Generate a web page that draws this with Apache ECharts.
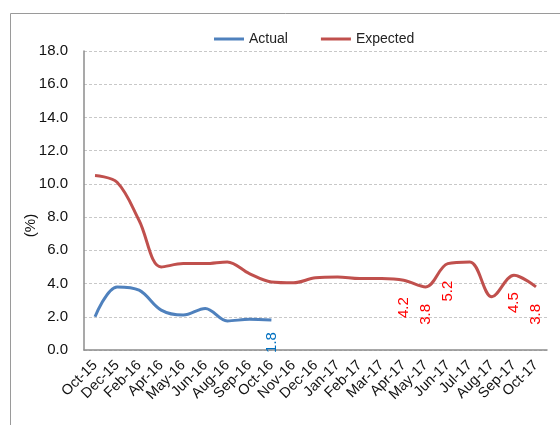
<!DOCTYPE html>
<html>
<head>
<meta charset="utf-8">
<script src="https://cdn.jsdelivr.net/npm/echarts@6/dist/echarts.min.js"></script>
<style>
  html, body { margin: 0; padding: 0; background: #fff; }
  #chart { width: 560px; height: 425px; }
</style>
</head>
<body>
<div id="chart"></div>
<script>
  // months shown on the x axis
  const categories = ['Oct-15', 'Dec-15', 'Feb-16', 'Apr-16', 'May-16', 'Jun-16', 'Aug-16',
    'Sep-16', 'Oct-16', 'Nov-16', 'Dec-16', 'Jan-17', 'Feb-17', 'Mar-17', 'Apr-17',
    'May-17', 'Jun-17', 'Jul-17', 'Aug-17', 'Sep-17', 'Oct-17'];

  const actual = [2.0, 3.8, 3.6, 2.4, 2.1, 2.5, 1.75, 1.85, 1.8,
    null, null, null, null, null, null, null, null, null, null, null, null];
  const expected = [10.5, 10.1, 7.8, 5.0, 5.2, 5.2, 5.3, 4.6, 4.1, 4.05, 4.35,
    4.4, 4.3, 4.3, 4.2, 3.8, 5.2, 5.3, 3.2, 4.5, 3.8];

  // points that carry a value label
  const actualLabelled = ['Oct-16'];
  const expectedLabelled = ['Apr-17', 'May-17', 'Jun-17', 'Sep-17', 'Oct-17'];

  const yTicks = [0, 2, 4, 6, 8, 10, 12, 14, 16, 18];

  function withLabels(values, labelled, color) {
    return values.map((v, i) => ({
      value: v,
      label: {
        show: labelled.indexOf(categories[i]) >= 0,
        color: color
      }
    }));
  }

  let myChart = echarts.init(document.getElementById('chart'));

  let valueLabel = {
    position: 'bottom',
    distance: 17,
    rotate: 90,
    align: 'right',
    verticalAlign: 'middle',
    fontSize: 15,
    formatter: p => p.value.toFixed(1)
  };

  let option = {
    animation: false,
    textStyle: { fontFamily: 'Liberation Sans' },
    graphic: [{
      type: 'rect',
      shape: { x: 10.5, y: 13.5, width: 600, height: 500 },
      style: { fill: 'none', stroke: '#9a9a9a', lineWidth: 1 },
      silent: true
    }],
    legend: {
      left: 209,
      top: 27,
      itemWidth: 30,
      itemHeight: 14,
      itemGap: 33,
      icon: 'path://M0,6 L30,6 L30,9 L0,9 Z',
      textStyle: { fontSize: 14, color: '#222' },
      data: ['Actual', 'Expected']
    },
    grid: {
      left: 84,
      right: 13,
      top: 51,
      bottom: 75
    },
    xAxis: {
      type: 'category',
      data: categories,
      boundaryGap: true,
      axisLine: { lineStyle: { color: '#8c8c8c', width: 1.5 } },
      axisTick: { show: false },
      axisLabel: {
        interval: 0,
        rotate: 45,
        margin: 13,
        fontSize: 14.5,
        color: '#111'
      }
    },
    yAxis: {
      type: 'value',
      min: yTicks[0],
      max: yTicks[yTicks.length - 1],
      interval: 2,
      name: '(%)',
      nameLocation: 'middle',
      nameGap: 46,
      nameMoveOverlap: false,
      nameTextStyle: { fontSize: 15, color: '#111', padding: [0, 50, 0, 0] },
      axisLine: { show: true, lineStyle: { color: '#8c8c8c', width: 1.5 } },
      axisTick: { show: false },
      splitLine: { lineStyle: { color: '#c8c8c8', type: [3, 2] } },
      axisLabel: {
        margin: 16,
        fontSize: 15,
        color: '#111',
        formatter: v => v.toFixed(1)
      }
    },
    series: [
      {
        name: 'Actual',
        type: 'line',
        smooth: 0.35,
        showSymbol: true,
        symbol: 'circle',
        symbolSize: 0.01,
        lineStyle: { color: '#4f81bd', width: 3 },
        itemStyle: { color: '#4f81bd' },
        label: Object.assign({}, valueLabel, { distance: 12 }),
        data: withLabels(actual, actualLabelled, '#0070c0')
      },
      {
        name: 'Expected',
        type: 'line',
        smooth: 0.35,
        showSymbol: true,
        symbol: 'circle',
        symbolSize: 0.01,
        lineStyle: { color: '#c0504d', width: 3 },
        itemStyle: { color: '#c0504d' },
        label: valueLabel,
        data: withLabels(expected, expectedLabelled, '#ff0000')
      }
    ]
  };

  myChart.setOption(option);
</script>
</body>
</html>
